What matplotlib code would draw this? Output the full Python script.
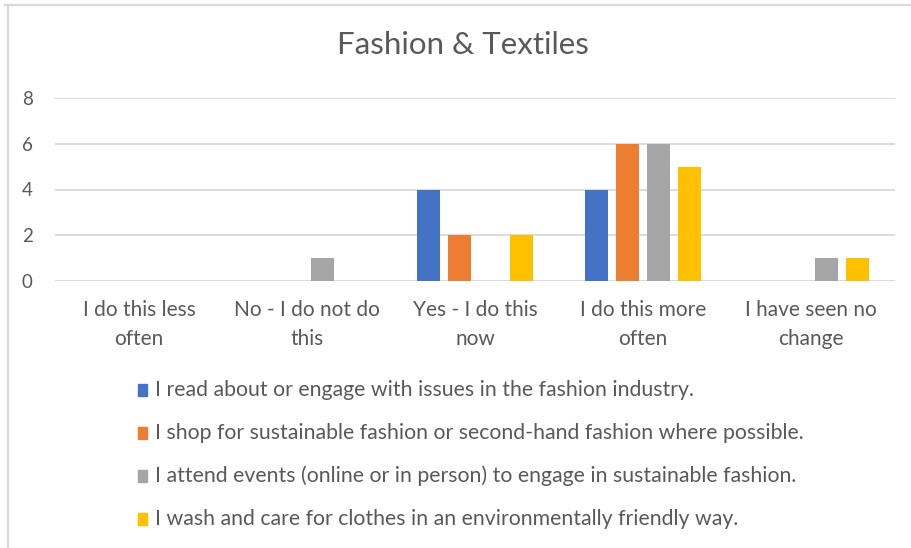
import numpy as np
import matplotlib
matplotlib.use("Agg")
import matplotlib.pyplot as plt
from matplotlib.patches import Rectangle
from matplotlib.lines import Line2D

plt.rcParams['font.family'] = ['Lato', 'DejaVu Sans']

title = "Fashion & Textiles"
categories = ["I do this less\noften", "No - I do not do\nthis", "Yes - I do this\nnow",
              "I do this more\noften", "I have seen no\nchange"]
series_names = [
    "I read about or engage with issues in the fashion industry.",
    "I shop for sustainable fashion or second-hand fashion where possible.",
    "I attend events (online or in person) to engage in sustainable fashion.",
    "I wash and care for clothes in an environmentally friendly way.",
]
read_engage = [0, 0, 4, 4, 0]
shop_sustainable = [0, 0, 2, 6, 0]
attend_events = [0, 1, 0, 6, 1]
wash_care = [0, 0, 2, 5, 1]
yticks = [0, 2, 4, 6, 8]

series = [read_engage, shop_sustainable, attend_events, wash_care]
colors = ["#4472C4", "#ED7D31", "#A5A5A5", "#FFC000"]
text_color = "#595959"
grid_color = "#D9D9D9"

W, H = 911, 548
fig = plt.figure(figsize=(W / 100, H / 100), dpi=100)
fig.patch.set_facecolor("white")

# chart frame (top and left edges)
fig.add_artist(Line2D([5 / W, 1], [1 - 4.5 / H, 1 - 4.5 / H], color=grid_color, lw=1.6))
fig.add_artist(Line2D([7.5 / W, 7.5 / W], [0, 1 - 4.5 / H], color=grid_color, lw=1.6))

ax = fig.add_axes([55 / W, 1 - 281 / H, 840 / W, 183 / H])
x = np.arange(len(categories))
step = 0.1827
width = 0.137
for j, (vals, c) in enumerate(zip(series, colors)):
    ax.bar(x + (j - 1.5) * step, vals, width=width, color=c, zorder=3)

ax.set_xlim(-0.5, len(categories) - 0.5)
ax.set_ylim(0, 8)
ax.set_yticks(yticks)
ax.set_yticklabels([str(v) for v in yticks])
for v in yticks:
    ax.axhline(v, color=grid_color, lw=1.3, zorder=1)
for s in ax.spines.values():
    s.set_visible(False)
ax.tick_params(axis="y", length=0, pad=16, labelsize=13.5, labelcolor=text_color)
ax.set_xticks(x)
ax.set_xticklabels(categories, linespacing=1.52)
ax.tick_params(axis="x", length=0, pad=14, labelsize=15, labelcolor=text_color)

fig.text(463 / W, 1 - 45.5 / H, title, ha="center", va="center", fontsize=22.5, color=text_color)

# legend
for i, (name, c) in enumerate(zip(series_names, colors)):
    yc = 390 + 43 * i
    fig.add_artist(Rectangle((138 / W, 1 - (yc + 6) / H), 9 / W, 12 / H, color=c,
                             transform=fig.transFigure))
    fig.text(155 / W, 1 - yc / H, name, ha="left", va="center", fontsize=15.3, color=text_color)

fig.savefig("out.png", dpi=100)
